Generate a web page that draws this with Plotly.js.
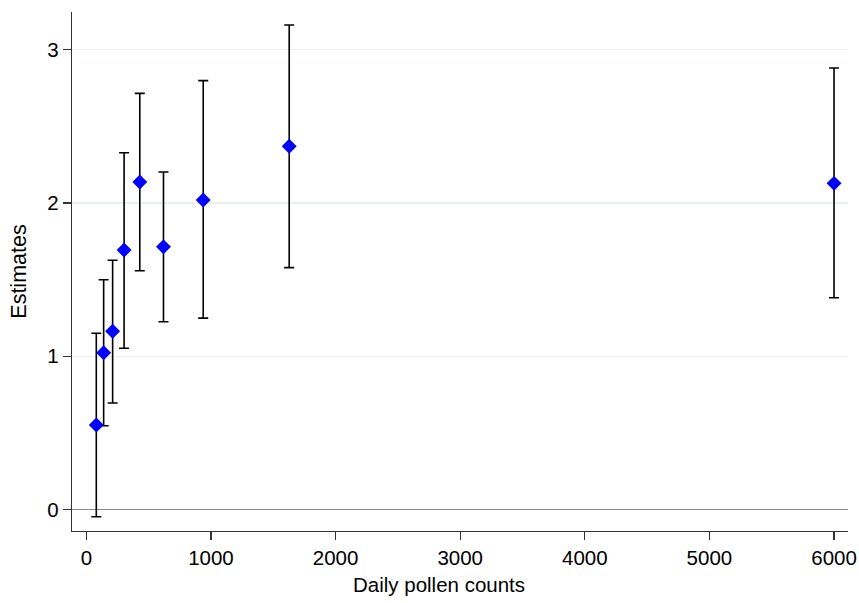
<!DOCTYPE html>
<html>
<head>
<meta charset="utf-8">
<script src="https://cdn.plot.ly/plotly-3.0.1.min.js"></script>
<style>html,body{margin:0;padding:0;background:#fff}#chart{width:859px;height:603px}</style>
</head>
<body>
<div id="chart"></div>
<script>
const pollen = [80, 139, 211, 303, 429, 619, 938, 1628, 6000];
const estimates = [0.551, 1.023, 1.163, 1.693, 2.137, 1.715, 2.019, 2.370, 2.128];
const ciUpper = [1.150, 1.499, 1.626, 2.328, 2.715, 2.202, 2.798, 3.161, 2.881];
const ciLower = [-0.047, 0.547, 0.695, 1.052, 1.558, 1.225, 1.249, 1.578, 1.382];
const xTicks = [0, 1000, 2000, 3000, 4000, 5000, 6000];
const yTicks = [0, 1, 2, 3];

const plus = estimates.map((e, i) => ciUpper[i] - e);
const minus = estimates.map((e, i) => e - ciLower[i]);

const trace = {
  x: pollen, y: estimates, type: 'scatter', mode: 'markers',
  marker: {symbol: 'diamond', size: 11.5, color: '#0000ff'},
  error_y: {type: 'data', symmetric: false, array: plus, arrayminus: minus,
            color: '#000000', thickness: 1.6, width: 5},
  showlegend: false, hoverinfo: 'none'
};

const font = {family: 'Arial, "Liberation Sans", sans-serif', color: '#000', size: 16};
const layout = {
  width: 859, height: 603,
  margin: {l: 72, r: 11, t: 12, b: 72},
  paper_bgcolor: '#fff', plot_bgcolor: '#fff',
  font: font,
  xaxis: {
    range: [-115, 6112], tickvals: xTicks, ticktext: xTicks.map(String),
    showgrid: false, zeroline: false,
    showline: true, linecolor: '#333', linewidth: 1.3,
    ticks: 'outside', ticklen: 8, tickcolor: '#333', tickwidth: 1.3,
    tickfont: {size: 20.5}
  },
  yaxis: {
    range: [-0.14, 3.246], tickvals: yTicks, ticktext: yTicks.map(String),
    showgrid: true, gridcolor: '#e8f0f0', gridwidth: 1.3,
    zeroline: true, zerolinecolor: '#8a8a8a', zerolinewidth: 1.3,
    showline: true, linecolor: '#333', linewidth: 1.3,
    ticks: 'outside', ticklen: 8, tickcolor: '#333', tickwidth: 1.3,
    tickfont: {size: 20.5},
    title: {text: 'Estimates', font: {size: 21.5}, standoff: 14}
  },
  annotations: [{
    text: 'Daily pollen counts', xref: 'paper', yref: 'paper',
    x: 0.473, y: -0.103, xanchor: 'center', yanchor: 'middle',
    showarrow: false, font: {size: 20.5}
  }]
};
Plotly.newPlot('chart', [trace], layout, {staticPlot: true, displayModeBar: false});
</script>
</body>
</html>
